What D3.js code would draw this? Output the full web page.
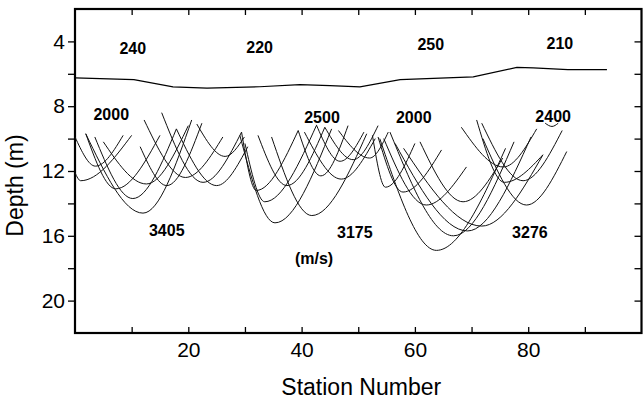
<!DOCTYPE html>
<html>
<head>
<meta charset="utf-8">
<script src="https://cdn.jsdelivr.net/npm/d3@7"></script>
<style>
    body { margin: 0; background: #fff; }
    text { font-family: "Liberation Sans", Arial, sans-serif; fill: #000; }
</style>
</head>
<body>
<div id="chart-area"></div>
<script>
// Set up chart dimensions
const width = 643;
const height = 401;
const margin = {top: 9, right: 1.5, bottom: 68, left: 75};

// Interface line near the top (station, depth)
const boundaryStation = [0, 10.4, 17.3, 23.3, 32.6, 39.7, 45, 50.3, 57.4, 70.3, 78, 80.9, 87, 93.9];
const boundaryDepth = [6.25, 6.36, 6.81, 6.88, 6.8, 6.67, 6.73, 6.81, 6.36, 6.19, 5.6, 5.63, 5.74, 5.74];

// Arcs: [left station, left depth, vertex station, vertex depth, right station, right depth]
const arcsWest = [
    [0.0, 9.9, 3.6, 11.7, 8.5, 9.8],
    [0.0, 12.1, 1.0, 12.6, 10.0, 9.8],
    [1.9, 9.7, 7.2, 13.1, 15.0, 9.8],
    [3.5, 9.9, 10.2, 13.7, 17.9, 9.4],
    [1.9, 9.7, 12.0, 14.6, 20.6, 8.85],
    [5.0, 10.2, 12.6, 12.8, 20.0, 9.2],
    [11.5, 10.5, 16.2, 12.9, 22.4, 9.05],
    [12.2, 8.85, 19.5, 12.4, 26.1, 9.9],
    [15.3, 8.4, 22.6, 12.7, 29.4, 9.6],
    [17.9, 9.4, 25.0, 12.9, 30.5, 10.5],
    [21.5, 9.1, 26.5, 11.1, 29.9, 9.9]
];
const arcsMiddle = [
    [29.4, 9.6, 32.0, 13.2, 39.4, 9.5],
    [29.1, 9.8, 35.3, 15.2, 45.3, 9.4],
    [30.0, 10.3, 33.5, 13.9, 42.6, 9.2],
    [32.3, 9.8, 37.4, 12.9, 44.1, 9.3],
    [34.7, 9.9, 41.8, 14.75, 51.5, 9.7],
    [39.4, 9.5, 43.4, 12.3, 48.2, 9.2],
    [40.5, 9.6, 47.0, 12.5, 53.0, 10.0],
    [42.6, 9.15, 46.8, 11.4, 51.0, 9.6],
    [44.1, 9.3, 49.1, 11.3, 53.5, 9.2],
    [46.5, 9.5, 52.0, 11.2, 55.3, 9.6]
];
const arcsEast = [
    [52.5, 9.8, 54.8, 13.0, 60.0, 10.3],
    [53.5, 9.9, 57.9, 13.3, 64.7, 10.7],
    [54.5, 10.0, 62.0, 14.1, 69.1, 11.75],
    [53.8, 10.0, 63.8, 16.9, 76.0, 10.6],
    [55.6, 9.6, 66.8, 16.0, 77.5, 10.2],
    [56.5, 10.3, 69.3, 15.7, 80.5, 9.9],
    [58.0, 10.6, 71.8, 15.4, 82.6, 11.0],
    [60.9, 10.2, 68.5, 13.9, 75.5, 11.2],
    [68.2, 9.3, 75.6, 11.75, 81.5, 9.4],
    [70.9, 8.85, 75.8, 12.7, 82.6, 11.0],
    [71.8, 9.05, 79.1, 12.6, 86.0, 9.5],
    [72.0, 10.0, 79.7, 14.1, 86.8, 10.8],
    [83.0, 9.05, 84.2, 9.25, 85.3, 9.05]
];

// Velocity annotations (m/s)
const topLabels = ["240", "220", "250", "210"];
const topStations = [10.2, 32.6, 62.8, 85.6];
const topDepths = [4.41, 4.35, 4.16, 4.1];
const midLabels = ["2000", "2500", "2000", "2400"];
const midStations = [6.4, 43.6, 59.8, 84.4];
const midDepths = [8.48, 8.67, 8.67, 8.6];
const lowLabels = ["3405", "3175", "3276", "(m/s)"];
const lowStations = [16.2, 49.4, 80.3, 42.2];
const lowDepths = [15.64, 15.77, 15.77, 17.37];

// Tick values
const stationTicks = [10, 20, 30, 40, 50, 60, 70, 80, 90];
const depthTicks = [4, 6, 8, 10, 12, 14, 16, 18, 20];

const svg = d3.select("#chart-area")
    .append("svg")
    .attr("width", width)
    .attr("height", height);

const x = d3.scaleLinear().domain([0, 100]).range([margin.left, width - margin.right]);
const y = d3.scaleLinear().domain([2, 22]).range([margin.top, height - margin.bottom]);

// Left axis: outward ticks, labels on every 4 m
const leftAxis = d3.axisLeft(y)
    .tickValues(depthTicks)
    .tickSize(7)
    .tickPadding(3)
    .tickFormat(d => d % 4 === 0 ? d : "");
const gl = svg.append("g").attr("transform", `translate(${x(0)},0)`).call(leftAxis);
gl.select(".domain").remove();
gl.selectAll("text").style("font-size", "21px");

// Right axis: inward ticks
const gr = svg.append("g").attr("transform", `translate(${x(100)},0)`)
    .call(d3.axisLeft(y).tickValues(depthTicks).tickSize(7).tickFormat(""));
gr.select(".domain").remove();

// Top axis: inward ticks
const gt = svg.append("g").attr("transform", `translate(0,${y(2)})`)
    .call(d3.axisBottom(x).tickValues(stationTicks).tickSize(6).tickFormat(""));
gt.select(".domain").remove();

// Bottom axis: inward ticks, labels on every 20
const gb = svg.append("g").attr("transform", `translate(0,${y(22)})`)
    .call(d3.axisBottom(x).tickValues(stationTicks).tickSizeInner(-6).tickSizeOuter(0)
        .tickPadding(9).tickFormat(d => d % 20 === 0 ? d : ""));
gb.select(".domain").remove();
gb.selectAll("text").style("font-size", "21px");

svg.selectAll(".tick line").attr("stroke", "#000").attr("stroke-width", 1.3);

// Frame
svg.append("rect")
    .attr("x", x(0))
    .attr("y", y(2))
    .attr("width", x(100) - x(0))
    .attr("height", y(22) - y(2))
    .attr("fill", "none")
    .attr("stroke", "#000")
    .attr("stroke-width", 2.2);

// Interface line
const boundary = boundaryStation.map((s, i) => [s, boundaryDepth[i]]);
svg.append("path")
    .datum(boundary)
    .attr("fill", "none")
    .attr("stroke", "#000")
    .attr("stroke-width", 1.2)
    .attr("d", d3.line().x(d => x(d[0])).y(d => y(d[1])));

// Arcs (U shaped travel curves)
const arcLine = d3.line()
    .x(d => x(d[0]))
    .y(d => y(d[1]))
    .curve(d3.curveMonotoneX);
const allArcs = arcsWest.concat(arcsMiddle, arcsEast)
    .map(a => [[a[0], a[1]], [a[2], a[3]], [a[4], a[5]]]);
svg.selectAll(".arc")
    .data(allArcs)
    .enter()
    .append("path")
    .attr("class", "arc")
    .attr("fill", "none")
    .attr("stroke", "#111")
    .attr("stroke-width", 1)
    .attr("d", arcLine);

// Annotations
function addLabels(labels, stations, depths) {
    svg.selectAll(null)
        .data(labels)
        .enter()
        .append("text")
        .attr("x", (d, i) => x(stations[i]))
        .attr("y", (d, i) => y(depths[i]))
        .attr("dy", ".35em")
        .attr("text-anchor", "middle")
        .style("font-size", "16px")
        .style("font-weight", "bold")
        .text(d => d);
}
addLabels(topLabels, topStations, topDepths);
addLabels(midLabels, midStations, midDepths);
addLabels(lowLabels, lowStations, lowDepths);

// Axis titles
svg.append("text")
    .attr("x", (x(0) + x(100)) / 2 + 3)
    .attr("y", 395)
    .attr("text-anchor", "middle")
    .style("font-size", "23px")
    .text("Station Number");

svg.append("text")
    .attr("transform", `translate(23,${y(12.9)}) rotate(-90)`)
    .attr("text-anchor", "middle")
    .style("font-size", "23px")
    .text("Depth (m)");
</script>
</body>
</html>
